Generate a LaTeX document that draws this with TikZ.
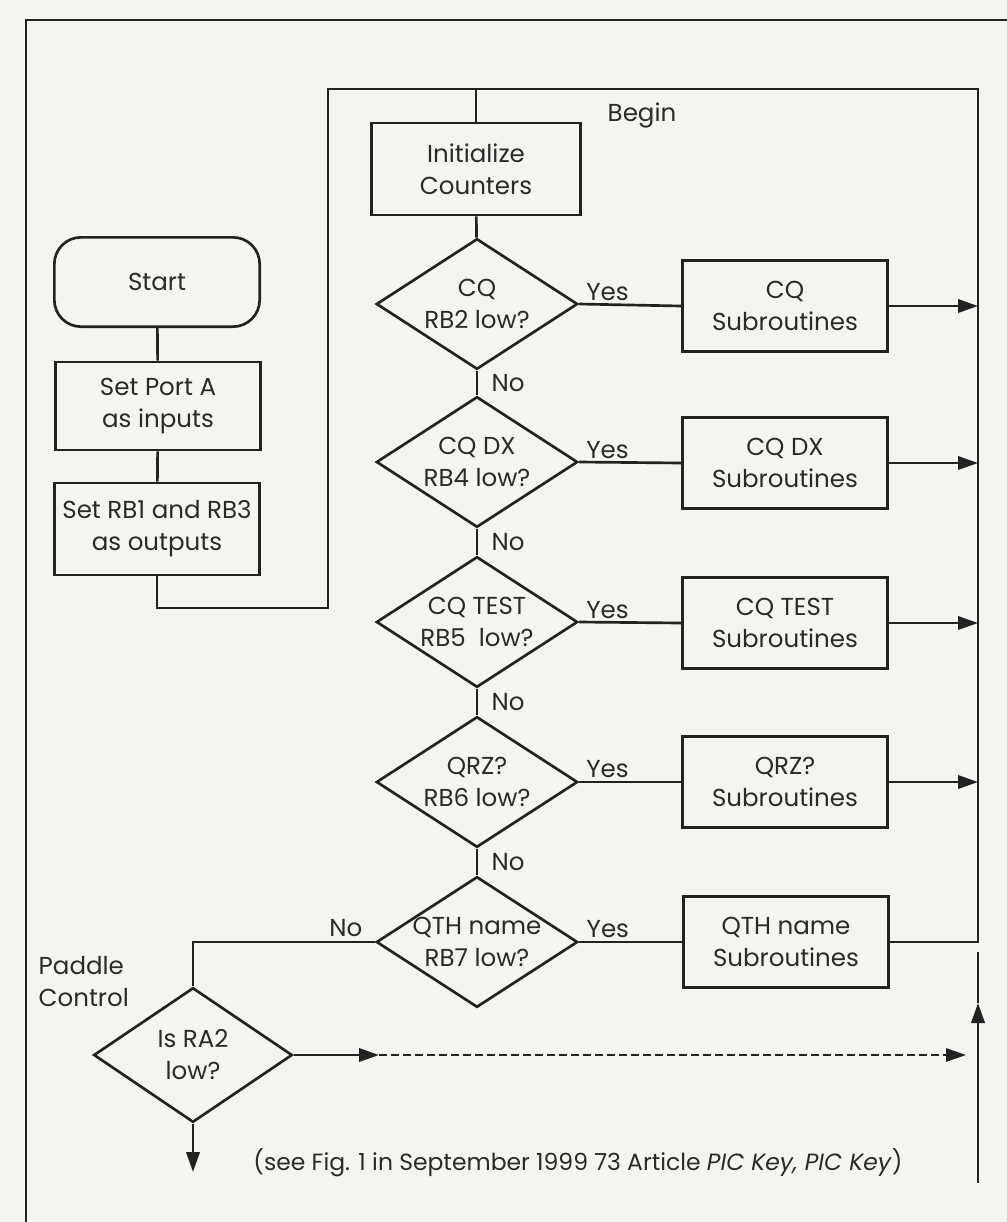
\documentclass[tikz,border=0pt]{standalone}
\usepackage{fontspec}
\setmainfont{Poppins}
\usepackage{tikz}
\usetikzlibrary{shapes.geometric}
\usetikzlibrary{arrows.meta}
\definecolor{inkline}{RGB}{34,34,34}
\definecolor{inktext}{RGB}{42,42,42}
\definecolor{paper}{RGB}{244,244,240}
\tikzset{
  flowline/.style={line width=2pt, color=inkline},
  tip/.style={-{Triangle[length=15pt,width=10pt]}},
  txt/.style={font=\fontsize{18.4}{24}\selectfont, text=inktext, align=center},
  procbox/.style={txt, draw=inkline, line width=2pt, inner sep=0pt, minimum width=154pt, minimum height=68pt},
  termbox/.style={procbox, rounded corners=20pt},
  decision/.style={txt, draw=inkline, line width=2pt, diamond, aspect=1.55, inner sep=-5pt, minimum width=151pt, minimum height=98pt},
  yeslbl/.style={pos=0.28, anchor=south, inner sep=2pt, txt},
  nolbl/.style={anchor=west, xshift=10pt, inner sep=0pt, txt}
}

\begin{document}
\begin{tikzpicture}[x=0.75pt,y=0.75pt,yscale=-1,xscale=1]
\useasboundingbox (0,0) rectangle (1007,1222);
\fill [paper] (0,0) rectangle (1007,1222);

%Straight Lines: frame
\draw [flowline] (26,1222) -- (26,20) -- (1007,20) ;

%Shape: Rounded Rect
\node [termbox, minimum height=67pt] (start) at (157,282) {Start};
%Shape: Rectangle
\node [procbox, minimum height=66pt] (portA) at (158,406) {Set Port A\\as inputs};
%Shape: Rectangle
\node [procbox, minimum height=69pt] (rbout) at (157,529) {Set RB1 and RB3\\as outputs};
%Shape: Rectangle
\node [procbox, minimum width=157pt, minimum height=69pt] (init) at (476,169) {Initialize\\Counters};

%Shape: Diamond
\node [decision] (rbtwo) at (477,304) {CQ\\RB2 low?};
\node [decision] (rbfour) at (477,462) {CQ DX\\RB4 low?};
\node [decision] (rbfive) at (477,622) {CQ TEST\\RB5\ \ low?};
\node [decision] (rbsix) at (477,782) {QRZ?\\RB6 low?};
\node [decision] (rbseven) at (477,942) {QTH name\\RB7 low?};
\node [decision, minimum width=149pt, minimum height=101pt] (ratwo) at (193,1055) {Is RA2\\low?};

%Shape: Rectangle
\node [procbox] (subcq) at (785,306) {CQ\\Subroutines};
\node [procbox] (subdx) at (785,463) {CQ DX\\Subroutines};
\node [procbox] (subtest) at (785,623) {CQ TEST\\Subroutines};
\node [procbox] (subqrz) at (785,782) {QRZ?\\Subroutines};
\node [procbox] (subqth) at (786,942) {QTH name\\Subroutines};

% Text Node
\node [txt, anchor=west] (begin) at (603,115) {Begin};
% Text Node
\node [txt, align=left, anchor=west] (paddle) at (34,982) {Paddle\\Control};
% Text Node
\node [txt, font=\fontsize{17.6}{24}\selectfont, anchor=center] (note) at (578,1163) {(see Fig. 1 in September 1999 73 Article \textit{PIC Key, PIC Key})};

%Coordinates of the loop
\coordinate (loopBL) at (328,608);
\coordinate (loopTL) at (328,89);
\coordinate (loopTR) at (978,89);
\coordinate (loopBR) at (978,942);
\coordinate (padout) at (193,1172);
\coordinate (dashA) at (379,1055);
\coordinate (dashB) at (966,1055);
\coordinate (rvBot) at (978,1183);
\coordinate (rvMid) at (978,1003);
\coordinate (rvTop) at (978,952);

%Straight Lines
\draw [flowline] (start) -- (portA) ;
\draw [flowline] (portA) -- (rbout) ;
\draw [flowline] (rbout.south) |- (loopBL) -- (loopTL) -- (loopTR) -- (loopBR) -- (subqth.east) ;
\draw [flowline] (init.north) -- (init.north |- loopTL) ;
\draw [flowline] (init) -- (rbtwo) ;
\draw [flowline] (rbtwo) -- node [nolbl] {No} (rbfour) ;
\draw [flowline] (rbfour) -- node [nolbl] {No} (rbfive) ;
\draw [flowline] (rbfive) -- node [nolbl] {No} (rbsix) ;
\draw [flowline] (rbsix) -- node [nolbl] {No} (rbseven) ;

%Straight Lines: Yes branches
\draw [flowline] (rbtwo.east) -- node [yeslbl] {Yes} (subcq.west) ;
\draw [flowline] (rbfour.east) -- node [yeslbl] {Yes} (subdx.west) ;
\draw [flowline] (rbfive.east) -- node [yeslbl] {Yes} (subtest.west) ;
\draw [flowline] (rbsix.east) -- node [yeslbl] {Yes} (subqrz.west) ;
\draw [flowline] (rbseven.east) -- node [yeslbl] {Yes} (subqth.west) ;

%Straight Lines: back to the loop
\draw [flowline, tip] (subcq.east) -- (subcq.east -| loopTR) ;
\draw [flowline, tip] (subdx.east) -- (subdx.east -| loopTR) ;
\draw [flowline, tip] (subtest.east) -- (subtest.east -| loopTR) ;
\draw [flowline, tip] (subqrz.east) -- (subqrz.east -| loopTR) ;

%Straight Lines: paddle
\draw [flowline] (rbseven.west) -| node [txt, pos=0.08, anchor=south, inner sep=3pt] {No} (ratwo.north) ;
\draw [flowline, tip] (ratwo.south) -- (padout) ;
\draw [flowline, tip] (ratwo.east) -- (dashA) ;
\draw [flowline, line width=1.3pt, dash pattern={on 6pt off 3pt}, tip] (dashA) -- (dashB) ;
\draw [flowline, tip] (rvBot) -- (rvMid) ;
\draw [flowline] (rvMid) -- (rvTop) ;

\end{tikzpicture}
\end{document}
